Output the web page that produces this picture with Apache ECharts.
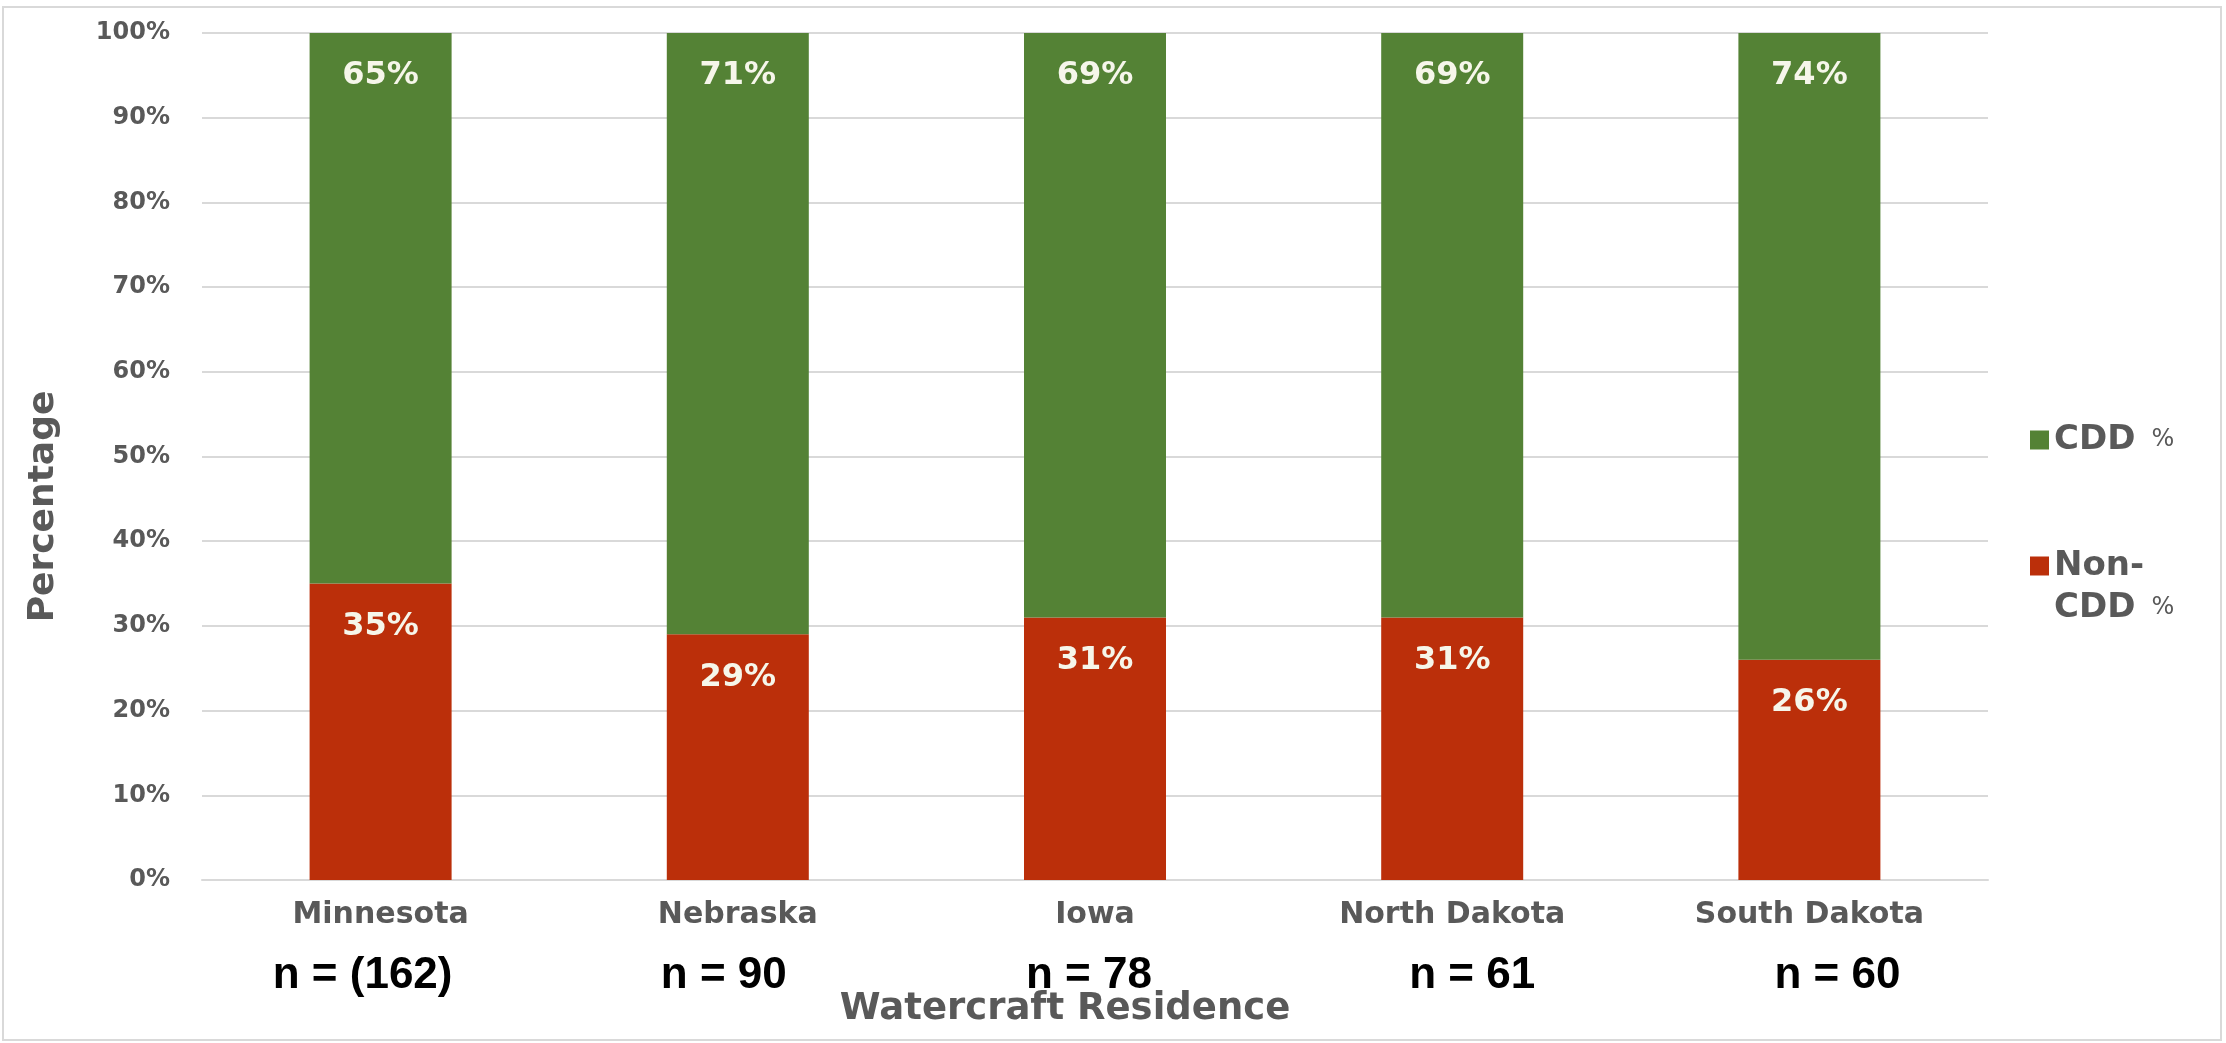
<!DOCTYPE html>
<html>
<head>
<meta charset="utf-8">
<script src="https://cdn.jsdelivr.net/npm/echarts@6/dist/echarts.min.js"></script>
<style>
  html, body { margin: 0; padding: 0; background: #fff; }
  #chart { width: 2226px; height: 1043px; }
</style>
</head>
<body>
<div id="chart"></div>
<script>
// 州名（横轴）
var states = ['Minnesota', 'Nebraska', 'Iowa', 'North Dakota', 'South Dakota'];
// 样本数
var nLabels = ['n = (162)', 'n = 90', 'n = 78', 'n = 61', 'n = 60'];
// 百分比
var nonCdd = [35, 29, 31, 31, 26];
var cdd = [65, 71, 69, 69, 74];
var yTicks = [0, 10, 20, 30, 40, 50, 60, 70, 80, 90, 100];

var grey = '#595959';
var gothic = '"DejaVu Sans", "Noto Sans", sans-serif';

// n 标签在原图里没有对齐柱子，水平偏移（像素）
var nShift = [-18, -14, -6, 20, 28];
var nAxisData = nLabels.map(function (t, i) {
  var d = nShift[i];
  return {
    value: t,
    textStyle: { padding: d > 0 ? [0, 0, 0, 2 * d] : [0, -2 * d, 0, 0] }
  };
});

var chart = echarts.init(document.getElementById('chart'));

var barLabel = {
  show: true,
  position: 'insideTop',
  distance: 27,
  color: '#f6f6ea',
  fontFamily: gothic,
  fontWeight: 'bold',
  fontSize: 32,
  formatter: '{c}%'
};

chart.setOption({
  animation: false,
  backgroundColor: '#fff',
  graphic: [{
    type: 'rect',
    shape: { x: 3, y: 7, width: 2218, height: 1033 },
    style: { fill: 'none', stroke: '#d9d9d9', lineWidth: 2 }
  }],
  grid: { left: 202, right: 238, top: 33, bottom: 163 },
  legend: {
    orient: 'vertical',
    left: 2030,
    top: 423,
    padding: 0,
    itemWidth: 19,
    itemHeight: 19,
    itemGap: 50,
    icon: 'rect',
    data: ['CDD %', 'Non-CDD %'],
    formatter: function (name) {
      if (name === 'CDD %') return '{b|CDD}{s|%}';
      return '{b| }\n{b|Non-}\n{b|CDD}{s|%}';
    },
    textStyle: {
      rich: {
        b: { fontFamily: gothic, fontWeight: 'bold', fontSize: 34, color: grey, lineHeight: 42 },
        s: { fontFamily: gothic, fontSize: 24, color: grey, lineHeight: 42, padding: [0, 0, 0, 16] }
      }
    }
  },
  xAxis: [{
    type: 'category',
    data: states,
    axisLine: { lineStyle: { color: '#d9d9d9', width: 2 } },
    axisTick: { show: false },
    axisLabel: {
      margin: 20,
      color: grey,
      fontFamily: gothic,
      fontWeight: 'bold',
      fontSize: 30
    },
    name: 'Watercraft Residence',
    nameLocation: 'middle',
    nameGap: 111,
    nameTextStyle: {
      color: grey,
      fontFamily: gothic,
      fontWeight: 'bold',
      fontSize: 37,
      padding: [0, 60, 0, 0]
    }
  }, {
    type: 'category',
    position: 'bottom',
    data: nAxisData,
    axisLine: { show: false },
    axisTick: { show: false },
    axisLabel: {
      margin: 74,
      color: '#000',
      fontFamily: '"Liberation Sans Narrow", "Liberation Sans", sans-serif',
      fontWeight: 'bold',
      fontSize: 44
    }
  }],
  yAxis: {
    type: 'value',
    min: yTicks[0],
    max: yTicks[yTicks.length - 1],
    interval: 10,
    axisLine: { show: false },
    axisTick: { show: false },
    splitLine: { lineStyle: { color: '#d9d9d9', width: 2 } },
    axisLabel: {
      margin: 32,
      color: grey,
      fontFamily: gothic,
      fontWeight: 'bold',
      fontSize: 24,
      formatter: '{value}%'
    },
    name: 'Percentage',
    nameLocation: 'middle',
    nameRotate: 90,
    nameGap: 140,
    nameTextStyle: {
      color: grey,
      fontFamily: gothic,
      fontWeight: 'bold',
      fontSize: 36,
      padding: [0, 100, 0, 0]
    }
  },
  series: [{
    name: 'Non-CDD %',
    type: 'bar',
    stack: 'total',
    barWidth: 142,
    data: nonCdd,
    itemStyle: { color: '#bb2f0a' },
    label: barLabel
  }, {
    name: 'CDD %',
    type: 'bar',
    stack: 'total',
    barWidth: 142,
    data: cdd,
    itemStyle: { color: '#548235' },
    label: barLabel
  }]
});
</script>
</body>
</html>
